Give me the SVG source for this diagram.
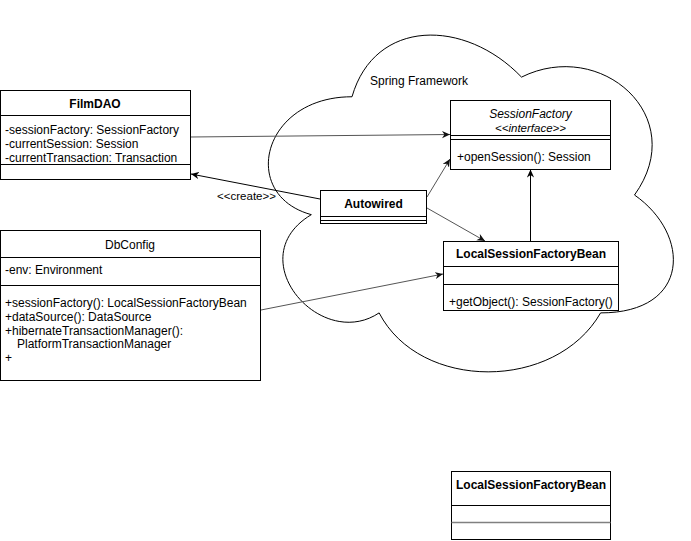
<svg xmlns="http://www.w3.org/2000/svg" width="691" height="541" viewBox="0 0 691 541">
<style>
text{font-family:"Liberation Sans",Arial,sans-serif;font-size:12px;fill:#000}
.b{font-weight:bold}
.i{font-style:italic}
.c{text-anchor:middle}
.box{fill:#fff;stroke:#000;stroke-width:1}
.ln{stroke:#000;stroke-width:1;fill:none}
.g{stroke:#555;stroke-width:1;fill:none}
</style>
<defs>
<marker id="ab" viewBox="0 0 10 10" refX="10" refY="5" markerWidth="8" markerHeight="8" markerUnits="userSpaceOnUse" orient="auto">
<path d="M0,0.5 L10,5 L0,9.5 L3,5 z" fill="#000"/>
</marker>
<marker id="ag" viewBox="0 0 10 10" refX="10" refY="5" markerWidth="8" markerHeight="8" markerUnits="userSpaceOnUse" orient="auto">
<path d="M0,0.5 L10,5 L0,9.5 L3,5 z" fill="#111"/>
</marker>
</defs>
<rect width="691" height="541" fill="#fff"/>
<g id="cloud">
<path d="M352,96.75 C261.6,96.75 239,195 311.32,214.65 C239,257.9 320.36,352.2 379.12,312.9 C419.8,391.5 555.4,391.5 600.6,312.9 C691,312.9 691,234.3 634.5,195 C691,116.4 600.6,37.8 521.5,77.1 C465,18.15 374.6,18.15 352,96.75 Z" fill="#fff" stroke="#000" stroke-width="1"/>
<text x="370" y="85">Spring Framework</text>
</g>
<g id="connectors">
<path class="g" d="M190,137 L450,134.5" marker-end="url(#ag)"/>
<path class="ln" d="M320,199 L191,174" marker-end="url(#ab)"/>
<text x="246.5" y="199.5" class="c" style="font-size:11.5px">&lt;&lt;create&gt;&gt;</text>
<path class="g" d="M427,197 L450,159" marker-end="url(#ag)"/>
<path class="g" d="M427,208 L485,241" marker-end="url(#ag)"/>
<path class="ln" d="M530.5,241 L530.5,169.5" marker-end="url(#ab)"/>
<path class="g" d="M261,310 L443,274" marker-end="url(#ag)"/>
</g>
<g id="filmdao">
<rect class="box" x="0.5" y="90.5" width="190" height="89"/>
<text x="95" y="107.5" class="b c">FilmDAO</text>
<path class="ln" d="M0,115.5 H190.5"/>
<text x="5" y="134">-sessionFactory: SessionFactory</text>
<text x="5" y="148">-currentSession: Session</text>
<text x="5" y="162">-currentTransaction: Transaction</text>
<path class="ln" d="M0,164.5 H190.5"/>
</g>
<g id="sessionfactory">
<rect class="box" x="450.5" y="100.5" width="160" height="69"/>
<text x="530.5" y="118" class="i c">SessionFactory</text>
<text x="530.5" y="131.5" class="i c" style="font-size:11.5px">&lt;&lt;interface&gt;&gt;</text>
<path class="ln" d="M450.5,135.5 H610.5 M450.5,139.5 H610.5"/>
<text x="457" y="161">+openSession(): Session</text>
</g>
<g id="autowired">
<rect class="box" x="320.5" y="190.5" width="106" height="33"/>
<text x="373.5" y="207.5" class="b c">Autowired</text>
<path class="ln" d="M320.5,216.5 H426.5 M320.5,220.5 H426.5"/>
</g>
<g id="lsfb">
<rect class="box" x="443.5" y="241.5" width="175" height="69"/>
<text x="531" y="258" class="b c">LocalSessionFactoryBean</text>
<path class="ln" d="M443.5,266.5 H618.5 M443.5,284.5 H618.5"/>
<text x="449" y="306">+getObject(): SessionFactory()</text>
</g>
<g id="dbconfig">
<rect class="box" x="0.5" y="230.5" width="260" height="150"/>
<text x="130" y="248.5" class="c">DbConfig</text>
<path class="ln" d="M0,257.5 H260.5"/>
<text x="5" y="273.5">-env: Environment</text>
<path class="ln" d="M0,285.5 H260.5"/>
<text x="5" y="306.5">+sessionFactory(): LocalSessionFactoryBean</text>
<text x="5" y="320.5">+dataSource(): DataSource</text>
<text x="5" y="334.5">+hibernateTransactionManager():</text>
<text x="17" y="348">PlatformTransactionManager</text>
<text x="5" y="362">+</text>
</g>
<g id="lsfb2">
<rect class="box" x="451.5" y="471.5" width="159" height="68"/>
<text x="531" y="488.5" class="b c">LocalSessionFactoryBean</text>
<path class="ln" d="M451.5,505.5 H610.5"/>
<path d="M451.5,522.5 H610.5" stroke="#808080" stroke-width="1.5" fill="none"/>
</g>
</svg>
